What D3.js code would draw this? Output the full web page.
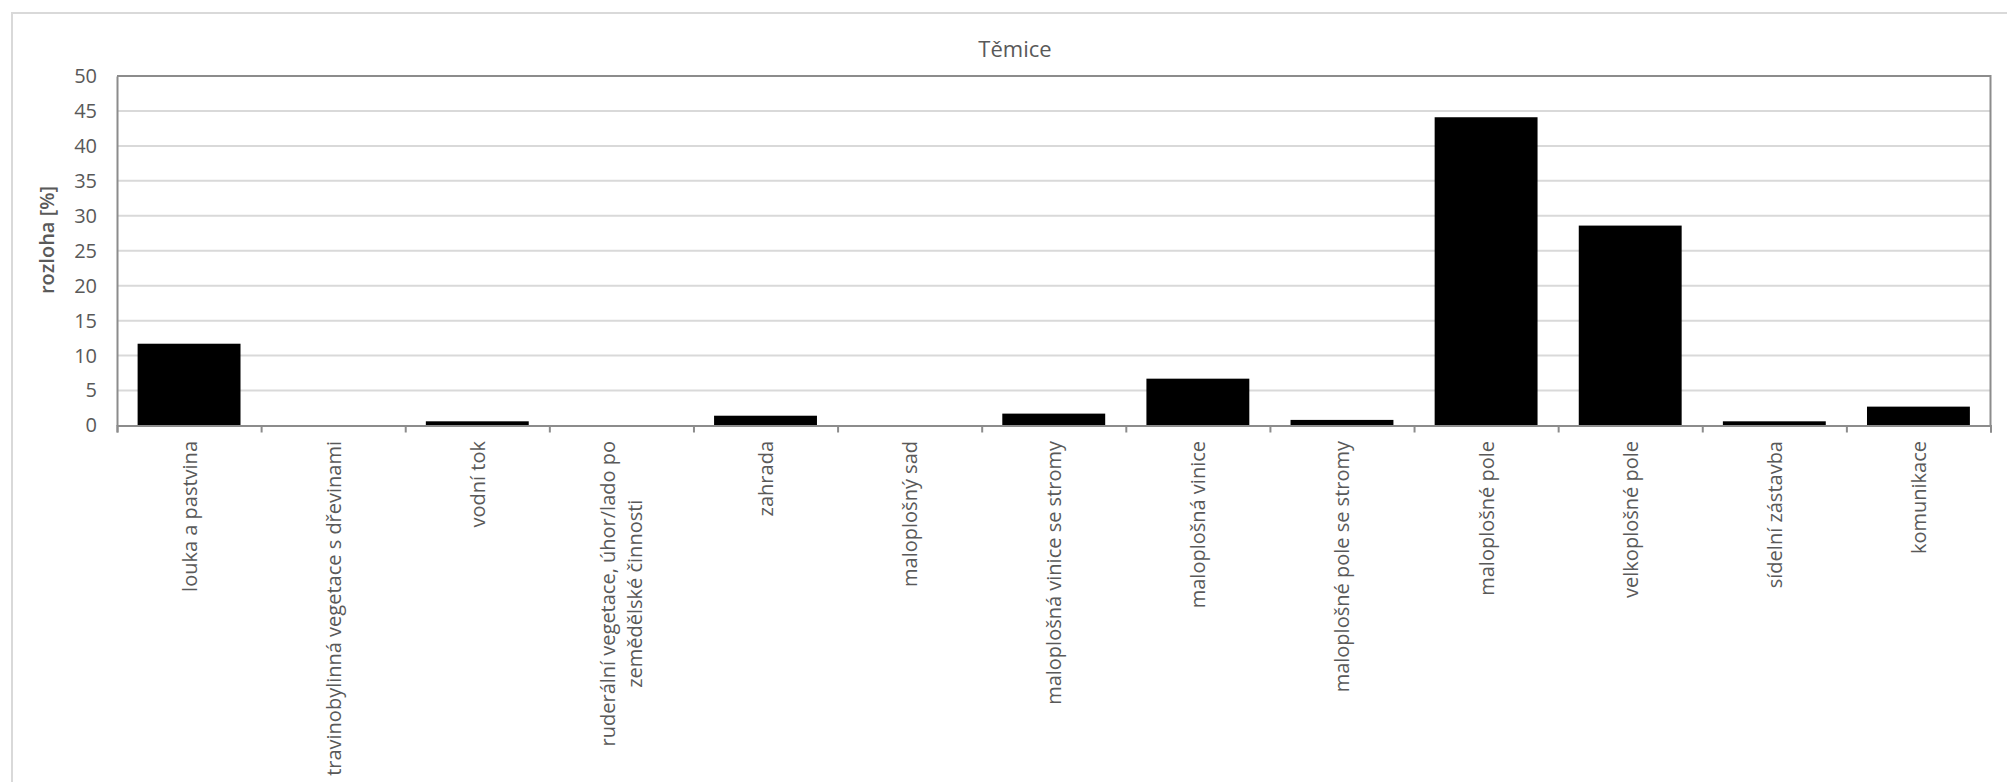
<!DOCTYPE html>
<html><head><meta charset="utf-8">
<script src="https://cdn.jsdelivr.net/npm/d3@7"></script>
<style>body{margin:0;background:#fff;overflow:hidden} text{font-family:"Open Sans",sans-serif}</style>
</head><body><svg id="c" width="2007" height="782"></svg>
<script>
const title = "Těmice";
const yTitle = "rozloha [%]";
const categories = [
  "louka a pastvina",
  "travinobylinná vegetace s dřevinami",
  "vodní tok",
  "ruderální vegetace, úhor/lado po\nzemědělské činnosti",
  "zahrada",
  "maloplošný sad",
  "maloplošná vinice se stromy",
  "maloplošná vinice",
  "maloplošné pole se stromy",
  "maloplošné pole",
  "velkoplošné pole",
  "sídelní zástavba",
  "komunikace"
];
const values = [11.7, 0, 0.6, 0, 1.4, 0, 1.7, 6.7, 0.8, 44.1, 28.6, 0.6, 2.7];
const yTicks = [0, 5, 10, 15, 20, 25, 30, 35, 40, 45, 50];

const svg = d3.select("#c");
const textColor = "#595959";
const L = 117, R = 1990.5, T = 76, B = 425.5;

svg.append("rect").attr("x", 12).attr("y", 13).attr("width", 2100).attr("height", 900)
  .attr("fill", "#fff").attr("stroke", "#d9d9d9").attr("stroke-width", 2);

const x = d3.scaleBand().domain(categories.map((d, i) => i)).range([L, R])
  .paddingInner(0.286).paddingOuter(0.143);
const y = d3.scaleLinear().domain([0, 50]).range([B, T]);

// gridlines
svg.append("g").selectAll("line").data(yTicks.filter(t => t > 0 && t < 50)).join("line")
  .attr("x1", L).attr("x2", R).attr("y1", d => y(d)).attr("y2", d => y(d))
  .attr("stroke", "#d9d9d9").attr("stroke-width", 2);

// bars
svg.append("g").selectAll("rect").data(values).join("rect")
  .attr("x", (d, i) => x(i)).attr("width", x.bandwidth())
  .attr("y", d => y(d)).attr("height", d => B - y(d))
  .attr("fill", "#000");

// plot frame top/right
const frameColor = "#8c8c8c";
svg.append("path").attr("d", `M${L},${T}H${R}V${B}`).attr("fill", "none")
  .attr("stroke", frameColor).attr("stroke-width", 2);

// y axis
const yAxis = d3.axisLeft(y).tickValues(yTicks).tickSize(0).tickPadding(20);
const gy = svg.append("g").attr("transform", `translate(${L},0)`).call(yAxis);
gy.select(".domain").attr("stroke", frameColor).attr("stroke-width", 2);
gy.selectAll("text").attr("fill", textColor).style("font-size", "20px")
  .style("font-family", "'Open Sans', sans-serif");

// x axis with ticks at category boundaries
const step = x.step();
const xb = d3.scaleLinear().domain([0, categories.length]).range([L, R]);
const gx = svg.append("g").attr("transform", `translate(0,${B})`)
  .call(d3.axisBottom(xb).tickValues(d3.range(categories.length + 1)).tickSize(7).tickFormat(""));
gx.select(".domain").attr("stroke", frameColor).attr("stroke-width", 2);
gx.selectAll(".tick line").attr("stroke", frameColor).attr("stroke-width", 2);

// category labels
const labTop = 441, lineGap = 27;
categories.forEach((c, i) => {
  const lines = c.split("\n");
  const cx = x(i) + x.bandwidth() / 2;
  const g = svg.append("g");
  const texts = lines.map((ln, k) => g.append("text").text(ln)
    .attr("fill", textColor).style("font-size", "20px")
    .attr("text-anchor", "middle").attr("dominant-baseline", "central"));
  const maxLen = d3.max(texts, t => t.node().getComputedTextLength());
  texts.forEach((t, k) => {
    const tx = cx + (k - (lines.length - 1) / 2) * lineGap;
    const ty = labTop + maxLen / 2;
    t.attr("transform", `translate(${tx},${ty}) rotate(-90)`);
  });
});

// y title
svg.append("text").text(yTitle).attr("transform", "translate(46,240) rotate(-90)")
  .attr("text-anchor", "middle").attr("dominant-baseline", "central")
  .attr("fill", textColor).style("font-size", "20px").style("font-weight", 600);

// chart title
svg.append("text").text(title).attr("x", 1015).attr("y", 48)
  .attr("text-anchor", "middle").attr("dominant-baseline", "central")
  .attr("fill", textColor).style("font-size", "22px");
</script></body></html>
